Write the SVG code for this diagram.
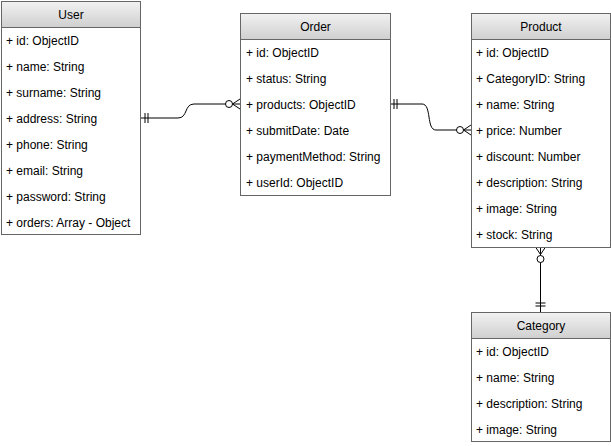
<svg xmlns="http://www.w3.org/2000/svg" width="611" height="446" viewBox="0 0 611 446">
<defs>
<linearGradient id="hg" x1="0" y1="0" x2="0" y2="1">
<stop offset="0" stop-color="#f2f2f2"/>
<stop offset="1" stop-color="#cfcfcf"/>
</linearGradient>
</defs>
<style>
.box{fill:#ffffff;stroke:#666666;stroke-width:1}
.hd{fill:url(#hg);stroke:#666666;stroke-width:1}
.t{font-family:"Liberation Sans",Arial,sans-serif;font-size:12px;fill:#000000}
.h{font-family:"Liberation Sans",Arial,sans-serif;font-size:12px;fill:#000000;text-anchor:middle}
.c{fill:none;stroke:#000000;stroke-width:1}
.o{fill:#ffffff;stroke:#000000;stroke-width:1}
</style>
<rect width="611" height="446" fill="#ffffff"/>
<g id="connectors">
<path class="c" d="M141,118 L178,118 C188,118 184,104 194,104 L240,104"/>
<path class="c" d="M145,113 V123 M148,113 V123"/>
<path class="c" d="M232.5,104 L240,99 M232.5,104 L240,109"/>
<circle class="o" cx="229" cy="104" r="3.5"/>
<path class="c" d="M390,104 L422,104 C432,104 426,130 436,130 L471,130"/>
<path class="c" d="M394,99 V109 M397,99 V109"/>
<path class="c" d="M463.5,130 L471,125 M463.5,130 L471,135"/>
<circle class="o" cx="460" cy="130" r="3.5"/>
<path class="c" d="M540.5,247 L540.5,312"/>
<path class="c" d="M540.5,254.5 L535.5,247 M540.5,254.5 L545.5,247"/>
<circle class="o" cx="540.5" cy="259" r="3.5"/>
<path class="c" d="M535.5,303 H545.5 M535.5,306 H545.5"/>
</g>
<g id="user">
<rect class="box" x="1.5" y="1.5" width="139" height="233"/>
<rect class="hd" x="1.5" y="1.5" width="139" height="26"/>
<text class="h" x="71" y="19">User</text>
<text class="t" x="6" y="45">+ id: ObjectID</text>
<text class="t" x="6" y="71">+ name: String</text>
<text class="t" x="6" y="97">+ surname: String</text>
<text class="t" x="6" y="123">+ address: String</text>
<text class="t" x="6" y="149">+ phone: String</text>
<text class="t" x="6" y="175">+ email: String</text>
<text class="t" x="6" y="201">+ password: String</text>
<text class="t" x="6" y="227">+ orders: Array - Object</text>
</g>
<g id="order">
<rect class="box" x="240.5" y="13.5" width="150" height="182"/>
<rect class="hd" x="240.5" y="13.5" width="150" height="26"/>
<text class="h" x="315.5" y="31">Order</text>
<text class="t" x="246" y="57">+ id: ObjectID</text>
<text class="t" x="246" y="83">+ status: String</text>
<text class="t" x="246" y="109">+ products: ObjectID</text>
<text class="t" x="246" y="135">+ submitDate: Date</text>
<text class="t" x="246" y="161">+ paymentMethod: String</text>
<text class="t" x="246" y="187">+ userId: ObjectID</text>
</g>
<g id="product">
<rect class="box" x="471.5" y="13.5" width="139" height="234"/>
<rect class="hd" x="471.5" y="13.5" width="139" height="26"/>
<text class="h" x="541" y="31">Product</text>
<text class="t" x="476" y="57">+ id: ObjectID</text>
<text class="t" x="476" y="83">+ CategoryID: String</text>
<text class="t" x="476" y="109">+ name: String</text>
<text class="t" x="476" y="135">+ price: Number</text>
<text class="t" x="476" y="161">+ discount: Number</text>
<text class="t" x="476" y="187">+ description: String</text>
<text class="t" x="476" y="213">+ image: String</text>
<text class="t" x="476" y="239">+ stock: String</text>
</g>
<g id="category">
<rect class="box" x="471.5" y="312.5" width="139" height="129"/>
<rect class="hd" x="471.5" y="312.5" width="139" height="26"/>
<text class="h" x="541" y="330">Category</text>
<text class="t" x="476" y="356">+ id: ObjectID</text>
<text class="t" x="476" y="382">+ name: String</text>
<text class="t" x="476" y="408">+ description: String</text>
<text class="t" x="476" y="434">+ image: String</text>
</g>
</svg>
